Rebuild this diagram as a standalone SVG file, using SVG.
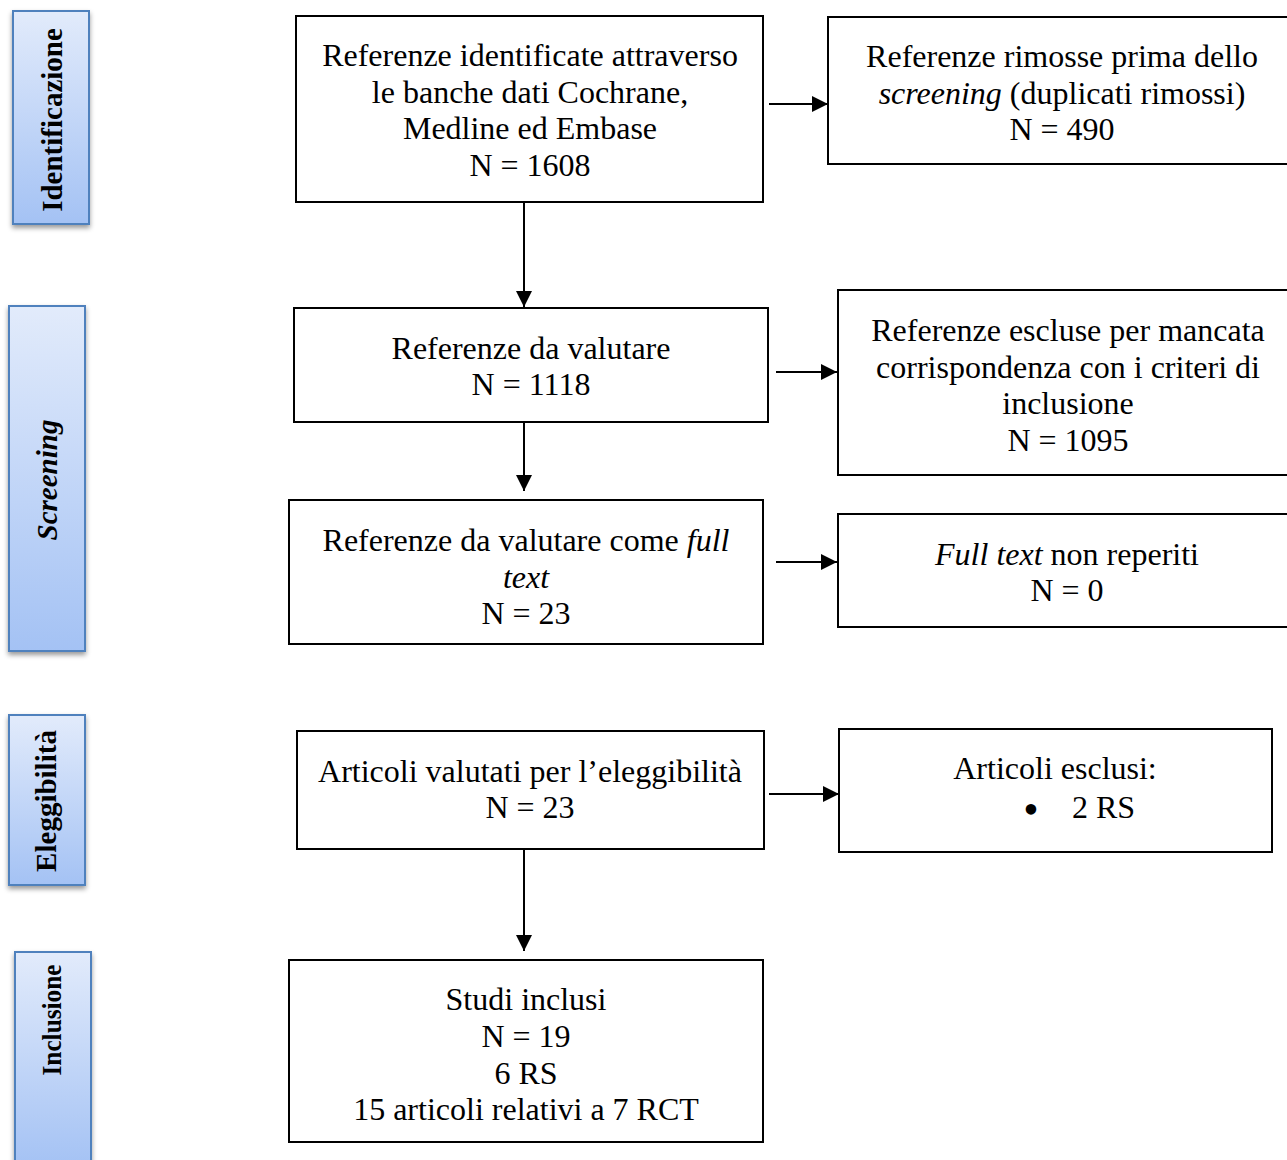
<svg xmlns="http://www.w3.org/2000/svg" width="1287" height="1160" viewBox="0 0 1287 1160">
<defs>
<linearGradient id="g" x1="0" y1="0" x2="0" y2="1">
<stop offset="0" stop-color="#e2ebfb"/>
<stop offset="1" stop-color="#a4c2f4"/>
</linearGradient>
<filter id="sh" x="-30%" y="-10%" width="160%" height="130%">
<feDropShadow dx="0" dy="3" stdDeviation="2.5" flood-color="#000" flood-opacity="0.4"/>
</filter>
<marker id="ah" viewBox="0 0 10 10" refX="10" refY="5" markerWidth="16" markerHeight="16" markerUnits="userSpaceOnUse" orient="auto">
<path d="M0,0 L10,5 L0,10 Z" fill="#000"/>
</marker>
<style>
.box{fill:#fff;stroke:#000;stroke-width:2}
.side{fill:url(#g);stroke:#4f81bd;stroke-width:2;filter:url(#sh)}
.t{font-family:"Liberation Serif","Times New Roman",serif;font-size:32px;fill:#000;text-anchor:middle}
.s{font-family:"Liberation Serif","Times New Roman",serif;font-size:29px;font-weight:bold;fill:#000;text-anchor:middle}
.c{stroke:#000;stroke-width:2;fill:none;marker-end:url(#ah)}
</style>
</defs>
<rect width="1287" height="1160" fill="#fff"/>

<g id="side-identificazione">
<rect class="side" x="13" y="11" width="76" height="213"/>
<text class="s" transform="translate(62,120) rotate(-90)">Identificazione</text>
</g>
<g id="side-screening">
<rect class="side" x="9" y="306" width="76" height="345"/>
<text class="s" font-style="italic" transform="translate(57,480) rotate(-90)">Screening</text>
</g>
<g id="side-eleggibilita">
<rect class="side" x="9" y="715" width="76" height="170"/>
<text class="s" transform="translate(56,801) rotate(-90)">Eleggibilità</text>
</g>
<g id="side-inclusione">
<rect class="side" x="15" y="952" width="76" height="215"/>
<text class="s" style="font-size:28px" textLength="111" lengthAdjust="spacingAndGlyphs" transform="translate(61,1020) rotate(-90)">Inclusione</text>
</g>

<g id="n1">
<rect class="box" x="296" y="16" width="467" height="186"/>
<text class="t" x="530" y="66">Referenze identificate attraverso</text>
<text class="t" x="530" y="103">le banche dati Cochrane,</text>
<text class="t" x="530" y="139">Medline ed Embase</text>
<text class="t" x="530" y="176">N = 1608</text>
</g>
<g id="n2">
<rect class="box" x="828" y="17" width="470" height="147"/>
<text class="t" x="1062" y="67">Referenze rimosse prima dello</text>
<text class="t" x="1062" y="104"><tspan font-style="italic">screening</tspan> (duplicati rimossi)</text>
<text class="t" x="1062" y="140">N = 490</text>
</g>
<g id="n3">
<rect class="box" x="294" y="308" width="474" height="114"/>
<text class="t" x="531" y="359">Referenze da valutare</text>
<text class="t" x="531" y="395">N = 1118</text>
</g>
<g id="n4">
<rect class="box" x="838" y="290" width="460" height="185"/>
<text class="t" x="1068" y="341">Referenze escluse per mancata</text>
<text class="t" x="1068" y="378">corrispondenza con i criteri di</text>
<text class="t" x="1068" y="414">inclusione</text>
<text class="t" x="1068" y="451">N = 1095</text>
</g>
<g id="n5">
<rect class="box" x="289" y="500" width="474" height="144"/>
<text class="t" x="526" y="551">Referenze da valutare come <tspan font-style="italic">full</tspan></text>
<text class="t" x="526" y="588" font-style="italic">text</text>
<text class="t" x="526" y="624">N = 23</text>
</g>
<g id="n6">
<rect class="box" x="838" y="514" width="460" height="113"/>
<text class="t" x="1067" y="565"><tspan font-style="italic">Full text</tspan> non reperiti</text>
<text class="t" x="1067" y="601">N = 0</text>
</g>
<g id="n7">
<rect class="box" x="297" y="731" width="467" height="118"/>
<text class="t" x="530" y="782">Articoli valutati per l’eleggibilità</text>
<text class="t" x="530" y="818">N = 23</text>
</g>
<g id="n8">
<rect class="box" x="839" y="729" width="433" height="123"/>
<text class="t" x="1055" y="779">Articoli esclusi:</text>
<text class="t" style="font-size:44px" x="1031" y="824">•</text>
<text class="t" style="text-anchor:start" x="1072" y="818">2 RS</text>
</g>
<g id="n9">
<rect class="box" x="289" y="960" width="474" height="182"/>
<text class="t" x="526" y="1010">Studi inclusi</text>
<text class="t" x="526" y="1047">N = 19</text>
<text class="t" x="526" y="1084">6 RS</text>
<text class="t" x="526" y="1120">15 articoli relativi a 7 RCT</text>
</g>

<g id="connectors">
<line class="c" x1="524" y1="202" x2="524" y2="307"/>
<line class="c" x1="769" y1="104" x2="828" y2="104"/>
<line class="c" x1="524" y1="422" x2="524" y2="491"/>
<line class="c" x1="776" y1="372" x2="837" y2="372"/>
<line class="c" x1="776" y1="562" x2="837" y2="562"/>
<line class="c" x1="769" y1="794" x2="839" y2="794"/>
<line class="c" x1="524" y1="849" x2="524" y2="951"/>
</g>
</svg>
